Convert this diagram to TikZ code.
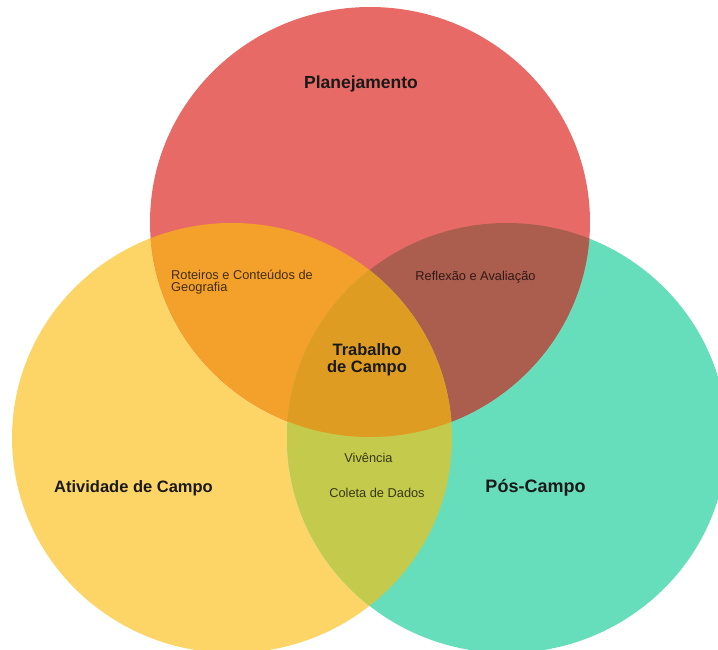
\documentclass[tikz,border=0pt]{standalone}
\usepackage{fontspec}
\setmainfont{Liberation Sans}
\definecolor{cred}{HTML}{E86A66}
\definecolor{cyel}{HTML}{FDD567}
\definecolor{cgrn}{HTML}{67DEBB}
\definecolor{cry}{HTML}{F4A12C}
\definecolor{crg}{HTML}{AB5D4E}
\definecolor{cyg}{HTML}{C4CA4B}
\definecolor{call}{HTML}{DE9D22}
\newcommand\shapeR{(370,222) ellipse [x radius=220pt, y radius=215pt]}
\newcommand\shapeY{(232,438) ellipse [x radius=220pt, y radius=215pt]}
\newcommand\shapeG{(507,438) ellipse [x radius=220pt, y radius=215pt]}
\begin{document}
\begin{tikzpicture}[x=1pt,y=-1pt,
  biglabel/.style={font=\fontsize{16.5}{17}\selectfont\bfseries, text=black!90, inner sep=0pt, anchor=base},
  smalllabel/.style={font=\fontsize{12.8}{12}\selectfont, text=black, text opacity=0.72, inner sep=0pt, anchor=base}]
\useasboundingbox (0,0) rectangle (718,650);
\clip (0,0) rectangle (718,650);
\fill[cyel] \shapeY;
\fill[cgrn] \shapeG;
\fill[cred] \shapeR;
\begin{scope}\clip \shapeR; \fill[cry] \shapeY; \end{scope}
\begin{scope}\clip \shapeR; \fill[crg] \shapeG; \end{scope}
\begin{scope}\clip \shapeY; \fill[cyg] \shapeG; \end{scope}
\begin{scope}\clip \shapeR; \clip \shapeY; \fill[call] \shapeG; \end{scope}
\node[biglabel, font=\fontsize{17.5}{18}\selectfont\bfseries] (plan) at (361,89) {Planejamento};
\node[biglabel] (ativ) at (133.5,492) {Atividade de Campo};
\node[biglabel, font=\fontsize{18}{18}\selectfont\bfseries] (pos) at (535.5,492) {Pós-Campo};
\node[biglabel, align=center] (trab) at (367,372) {Trabalho\\de Campo};
\node[smalllabel, anchor=base west, align=left] (rot) at (171,291) {Roteiros e Conteúdos de\\Geografia};
\node[smalllabel] (refl) at (475.5,280) {Reflexão e Avaliação};
\node[smalllabel] (viv) at (368.5,462) {Vivência};
\node[smalllabel] (col) at (377,497) {Coleta de Dados};
\end{tikzpicture}
\end{document}
